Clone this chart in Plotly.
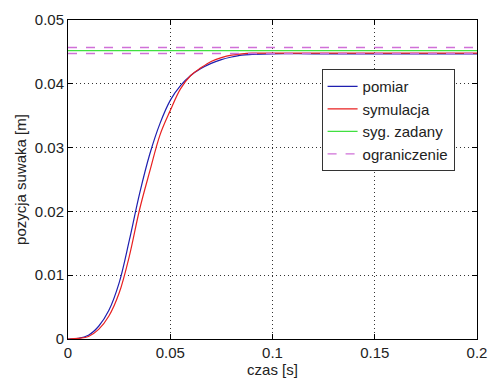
import plotly.graph_objects as go

t_pomiar = [0.000, 0.005, 0.010, 0.015, 0.020, 0.025, 0.030, 0.035, 0.040, 0.045,
            0.050, 0.055, 0.060, 0.065, 0.070, 0.075, 0.080, 0.085, 0.090, 0.100,
            0.120, 0.150, 0.200]
y_pomiar = [0.0000, 0.0001, 0.0006, 0.0020, 0.0045, 0.0088, 0.0155, 0.0228, 0.0290, 0.0338,
            0.0374, 0.0397, 0.0413, 0.0424, 0.0432, 0.0438, 0.0442, 0.0445, 0.0446, 0.0447,
            0.0447, 0.0447, 0.0447]

t_sym = [0.000, 0.005, 0.010, 0.015, 0.020, 0.025, 0.030, 0.035, 0.040, 0.045,
         0.050, 0.055, 0.060, 0.065, 0.070, 0.075, 0.080, 0.085, 0.090, 0.100,
         0.120, 0.150, 0.200]
y_sym = [0.0000, 0.0001, 0.0004, 0.0015, 0.0036, 0.0072, 0.0130, 0.0203, 0.0263, 0.0320,
         0.0358, 0.0392, 0.0413, 0.0425, 0.0435, 0.0441, 0.0445, 0.0447, 0.0448, 0.0448,
         0.0448, 0.0448, 0.0448]

t_range = [0.0, 0.2]
zadany = 0.0452
ogr_gora = 0.0457
ogr_dol = 0.04476

x_ticks = [0, 0.05, 0.1, 0.15, 0.2]
x_labels = ["0", "0.05", "0.1", "0.15", "0.2"]
y_ticks = [0, 0.01, 0.02, 0.03, 0.04, 0.05]
y_labels = ["0", "0.01", "0.02", "0.03", "0.04", "0.05"]

FONT = "Liberation Sans, Arial, sans-serif"

fig = go.Figure()
fig.add_trace(go.Scatter(x=t_pomiar, y=y_pomiar, mode="lines", name="pomiar",
                         line=dict(color="#1f1fb0", width=1.2, shape="spline")))
fig.add_trace(go.Scatter(x=t_sym, y=y_sym, mode="lines", name="symulacja",
                         line=dict(color="#e82020", width=1.2, shape="spline")))
fig.add_trace(go.Scatter(x=t_range, y=[zadany, zadany], mode="lines", name="syg. zadany",
                         line=dict(color="#40e040", width=1.2)))
fig.add_trace(go.Scatter(x=t_range, y=[ogr_gora, ogr_gora], mode="lines", name="ograniczenie",
                         line=dict(color="#d070d8", width=1.4, dash="dash")))
fig.add_trace(go.Scatter(x=t_range, y=[ogr_dol, ogr_dol], mode="lines", name="ograniczenie",
                         showlegend=False,
                         line=dict(color="#d070d8", width=1.4, dash="dash")))

axis_common = dict(showline=True, linecolor="black", linewidth=1, mirror="allticks",
                   ticks="inside", ticklen=5, tickcolor="black", automargin=False,
                   ticklabeloverflow="allow",
                   showgrid=True, gridcolor="#333333", griddash="1px,3px", gridwidth=1,
                   zeroline=False, tickfont=dict(size=15, color="#222", family=FONT))

fig.update_xaxes(range=[0, 0.2], tickvals=x_ticks, ticktext=x_labels,
                 title=dict(text="czas [s]", font=dict(size=15, color="#222", family=FONT), standoff=2),
                 **axis_common)
fig.update_yaxes(range=[0, 0.05], tickvals=y_ticks, ticktext=y_labels,
                 title=dict(text="pozycja suwaka [m]", font=dict(size=15, color="#222", family=FONT), standoff=4),
                 **axis_common)

fig.update_layout(width=488, height=383, margin=dict(l=68, r=11, t=20, b=44),
                  paper_bgcolor="white", plot_bgcolor="white",
                  font=dict(family=FONT, color="#222"),
                  legend=dict(x=0.62, y=0.846, xanchor="left", yanchor="top",
                              bgcolor="white", bordercolor="#333", borderwidth=1,
                              font=dict(size=15, color="#222", family=FONT), tracegroupgap=0,
                              itemwidth=30))

fig.write_html("out.html")
